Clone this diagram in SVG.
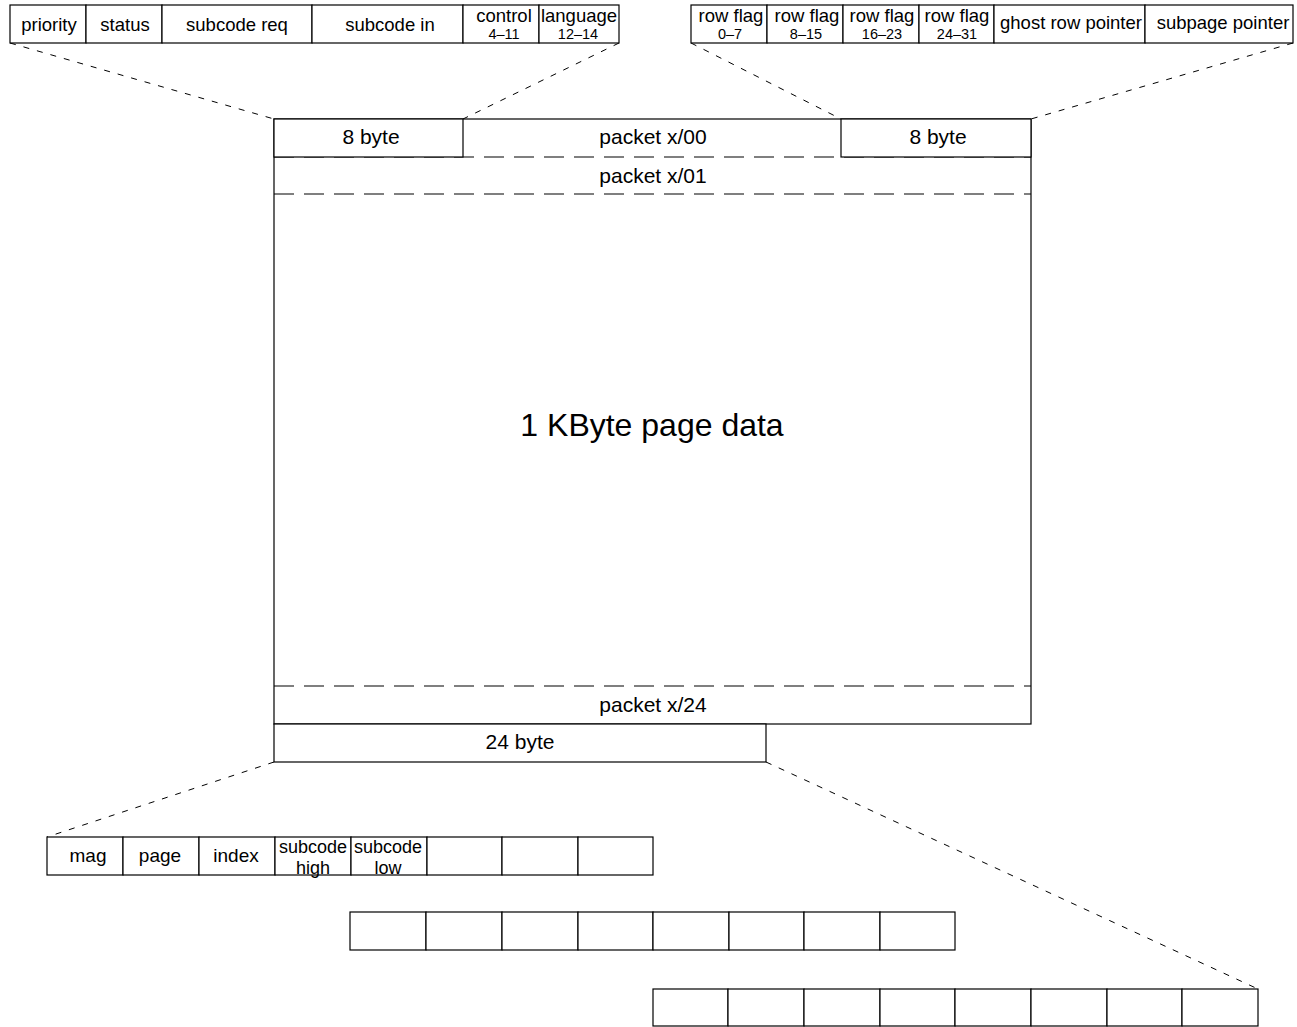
<svg xmlns="http://www.w3.org/2000/svg" width="1297" height="1027" viewBox="0 0 1297 1027">
<style>
.c{fill:#fff;stroke:#000;stroke-width:1.2}
.t{font-family:"Liberation Sans",Arial,sans-serif;font-size:18.5px;fill:#000;text-anchor:middle}
.s{font-family:"Liberation Sans",Arial,sans-serif;font-size:14.5px;fill:#000;text-anchor:middle}
.m{font-family:"Liberation Sans",Arial,sans-serif;font-size:21px;fill:#000;text-anchor:middle}
.b{font-family:"Liberation Sans",Arial,sans-serif;font-size:19px;fill:#000;text-anchor:middle}
.b2{font-family:"Liberation Sans",Arial,sans-serif;font-size:18px;fill:#000;text-anchor:middle}
.big{font-family:"Liberation Sans",Arial,sans-serif;font-size:32px;fill:#000;text-anchor:middle}
.d{stroke:#000;stroke-width:1;stroke-dasharray:6,8;fill:none}
.ld{stroke:#000;stroke-width:1.2;stroke-dasharray:20,10;fill:none}
</style>
<rect width="1297" height="1027" fill="#fff"/>
<g id="connectors">
<line class="d" x1="10" y1="43" x2="274" y2="119"/>
<line class="d" x1="619" y1="43" x2="463" y2="119"/>
<line class="d" x1="691" y1="43" x2="841" y2="119"/>
<line class="d" x1="1293" y1="43" x2="1031" y2="119"/>
<line class="d" x1="274" y1="762" x2="47" y2="837"/>
<line class="d" x1="766" y1="762" x2="1258" y2="989"/>
</g>
<g id="header-left">
<rect class="c" x="10" y="5" width="76" height="38"/><text class="t" x="49" y="31">priority</text>
<rect class="c" x="86" y="5" width="76" height="38"/><text class="t" x="125" y="31">status</text>
<rect class="c" x="162" y="5" width="150" height="38"/><text class="t" x="237" y="31">subcode req</text>
<rect class="c" x="312" y="5" width="151" height="38"/><text class="t" x="390" y="31">subcode in</text>
<rect class="c" x="463" y="5" width="76" height="38"/><text class="t" x="504" y="22">control</text><text class="s" x="504" y="39">4–11</text>
<rect class="c" x="539" y="5" width="80" height="38"/><text class="t" x="579" y="22">language</text><text class="s" x="578" y="39">12–14</text>
</g>
<g id="header-right">
<rect class="c" x="691" y="5" width="76" height="38"/><text class="t" x="731" y="22">row flag</text><text class="s" x="730" y="39">0–7</text>
<rect class="c" x="767" y="5" width="76" height="38"/><text class="t" x="807" y="22">row flag</text><text class="s" x="806" y="39">8–15</text>
<rect class="c" x="843" y="5" width="76" height="38"/><text class="t" x="882" y="22">row flag</text><text class="s" x="882" y="39">16–23</text>
<rect class="c" x="919" y="5" width="75" height="38"/><text class="t" x="957" y="22">row flag</text><text class="s" x="957" y="39">24–31</text>
<rect class="c" x="994" y="5" width="151" height="38"/><text class="t" x="1071" y="29">ghost row pointer</text>
<rect class="c" x="1145" y="5" width="148" height="38"/><text class="t" x="1223" y="29">subpage pointer</text>
</g>
<g id="page">
<rect class="c" x="274" y="119" width="757" height="605"/>
<line class="ld" x1="274" y1="157" x2="1031" y2="157"/>
<line class="ld" x1="274" y1="194" x2="1031" y2="194"/>
<line class="ld" x1="274" y1="686" x2="1031" y2="686"/>
<rect class="c" x="274" y="119" width="189" height="38"/><text class="m" x="371" y="144">8 byte</text>
<text class="m" x="653" y="144">packet x/00</text>
<rect class="c" x="841" y="119" width="190" height="38"/><text class="m" x="938" y="144">8 byte</text>
<text class="m" x="653" y="183">packet x/01</text>
<text class="big" x="652" y="436">1 KByte page data</text>
<text class="m" x="653" y="712">packet x/24</text>
<rect class="c" x="274" y="724" width="492" height="38"/><text class="m" x="520" y="749">24 byte</text>
</g>
<g id="row1">
<rect class="c" x="47" y="837" width="76" height="38"/><text class="b" x="88" y="862">mag</text>
<rect class="c" x="123" y="837" width="76" height="38"/><text class="b" x="160" y="862">page</text>
<rect class="c" x="199" y="837" width="76" height="38"/><text class="b" x="236" y="862">index</text>
<rect class="c" x="275" y="837" width="76" height="38"/><text class="b2" x="313" y="853">subcode</text><text class="b2" x="313" y="874">high</text>
<rect class="c" x="351" y="837" width="76" height="38"/><text class="b2" x="388" y="853">subcode</text><text class="b2" x="388" y="874">low</text>
<rect class="c" x="427" y="837" width="75" height="38"/>
<rect class="c" x="502" y="837" width="76" height="38"/>
<rect class="c" x="578" y="837" width="75" height="38"/>
</g>
<g id="row2">
<rect class="c" x="350" y="912" width="76" height="38"/>
<rect class="c" x="426" y="912" width="76" height="38"/>
<rect class="c" x="502" y="912" width="76" height="38"/>
<rect class="c" x="578" y="912" width="75" height="38"/>
<rect class="c" x="653" y="912" width="76" height="38"/>
<rect class="c" x="729" y="912" width="75" height="38"/>
<rect class="c" x="804" y="912" width="76" height="38"/>
<rect class="c" x="880" y="912" width="75" height="38"/>
</g>
<g id="row3">
<rect class="c" x="653" y="989" width="75" height="37"/>
<rect class="c" x="728" y="989" width="76" height="37"/>
<rect class="c" x="804" y="989" width="76" height="37"/>
<rect class="c" x="880" y="989" width="75" height="37"/>
<rect class="c" x="955" y="989" width="76" height="37"/>
<rect class="c" x="1031" y="989" width="76" height="37"/>
<rect class="c" x="1107" y="989" width="75" height="37"/>
<rect class="c" x="1182" y="989" width="76" height="37"/>
</g>
</svg>
